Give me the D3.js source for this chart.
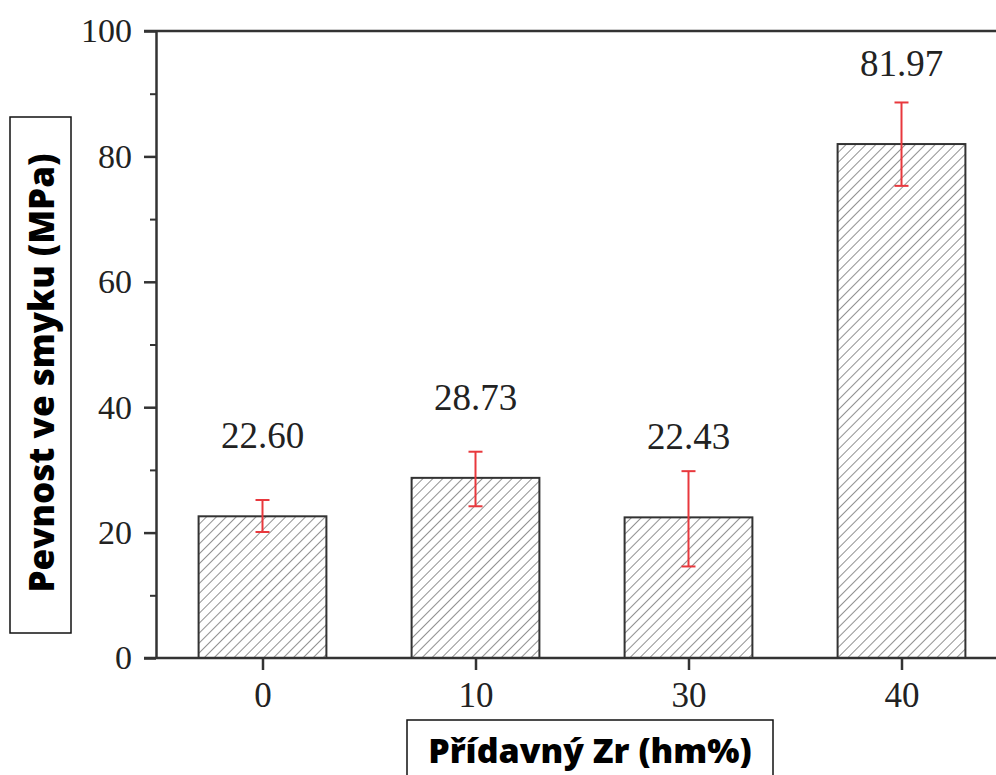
<!DOCTYPE html>
<html>
<head>
<meta charset="utf-8">
<script src="https://cdn.jsdelivr.net/npm/d3@7"></script>
<style>
  body { margin: 0; background: #fff; }
  svg { display: block; }
</style>
</head>
<body>
<div id="chart"></div>
<script>
// data
const categories = ['0', '10', '30', '40']
const values = [22.60, 28.73, 22.43, 81.97]
const errUpper = [25.2, 32.9, 29.8, 88.6]
const errLower = [20.1, 24.2, 14.6, 75.3]
const labels = ['22.60', '28.73', '22.43', '81.97']
const yTicks = [0, 20, 40, 60, 80, 100]
const yMinorTicks = [10, 30, 50, 70, 90]

const W = 996, H = 775
const plot = {left: 156, right: 1008, top: 31, bottom: 658}

const svg = d3.select('#chart').append('svg')
    .attr('width', W)
    .attr('height', H)

// hatch pattern for the bars
const defs = svg.append('defs')
defs.append('pattern')
    .attr('id', 'hatch')
    .attr('patternUnits', 'userSpaceOnUse')
    .attr('width', 7)
    .attr('height', 7)
    .attr('patternTransform', 'rotate(45)')
  .append('line')
    .attr('x1', 0).attr('y1', 0)
    .attr('x2', 0).attr('y2', 7)
    .attr('stroke', '#555')
    .attr('stroke-width', 1.3)

const x = d3.scalePoint()
    .domain(categories)
    .range([plot.left, plot.right])
    .padding(0.5)
const barW = x.step() * 0.6

const y = d3.scaleLinear()
    .domain([0, 100])
    .range([plot.bottom, plot.top])

const serif = '"Liberation Serif", "Times New Roman", serif'

// bars
svg.selectAll('.bar')
    .data(values)
    .join('rect')
    .attr('class', 'bar')
    .attr('x', (d, i) => x(categories[i]) - barW / 2)
    .attr('y', d => y(d))
    .attr('width', barW)
    .attr('height', d => y(0) - y(d))
    .attr('fill', 'url(#hatch)')
    .attr('stroke', '#333')
    .attr('stroke-width', 2)

// error bars
const eb = svg.selectAll('.err')
    .data(values)
    .join('g')
    .attr('class', 'err')
    .attr('stroke', '#e8383d')
    .attr('stroke-width', 2)
eb.append('line')
    .attr('x1', (d, i) => x(categories[i]))
    .attr('x2', (d, i) => x(categories[i]))
    .attr('y1', (d, i) => y(errUpper[i]))
    .attr('y2', (d, i) => y(errLower[i]))
eb.append('line')
    .attr('x1', (d, i) => x(categories[i]) - 7)
    .attr('x2', (d, i) => x(categories[i]) + 7)
    .attr('y1', (d, i) => y(errUpper[i]))
    .attr('y2', (d, i) => y(errUpper[i]))
eb.append('line')
    .attr('x1', (d, i) => x(categories[i]) - 7)
    .attr('x2', (d, i) => x(categories[i]) + 7)
    .attr('y1', (d, i) => y(errLower[i]))
    .attr('y2', (d, i) => y(errLower[i]))

// value labels
svg.selectAll('.vlabel')
    .data(values)
    .join('text')
    .attr('class', 'vlabel')
    .attr('x', (d, i) => x(categories[i]))
    .attr('y', d => y(d) - 68)
    .attr('text-anchor', 'middle')
    .style('font-family', serif)
    .style('font-size', '37px')
    .attr('fill', '#222')
    .text((d, i) => labels[i])

// y axis
const yAxis = svg.append('g')
    .attr('transform', `translate(${plot.left},0)`)
    .call(d3.axisLeft(y).tickValues(yTicks).tickSize(12).tickPadding(12).tickSizeOuter(0))
yAxis.select('.domain').attr('stroke', '#333').attr('stroke-width', 2.5)
yAxis.selectAll('.tick line').attr('stroke', '#333').attr('stroke-width', 2.5)
yAxis.selectAll('.tick text')
    .style('font-family', serif)
    .style('font-size', '34px')
    .attr('fill', '#222')

const yMinor = svg.append('g')
    .attr('transform', `translate(${plot.left},0)`)
    .call(d3.axisLeft(y).tickValues(yMinorTicks).tickSize(6).tickFormat(''))
yMinor.select('.domain').remove()
yMinor.selectAll('.tick line').attr('stroke', '#333').attr('stroke-width', 2)

// top frame line
svg.append('line')
    .attr('x1', plot.left - 12).attr('x2', W)
    .attr('y1', y(100)).attr('y2', y(100))
    .attr('stroke', '#333')
    .attr('stroke-width', 2.5)

// x axis
const xAxis = svg.append('g')
    .attr('transform', `translate(0,${plot.bottom})`)
    .call(d3.axisBottom(x).tickSize(12).tickPadding(12).tickSizeOuter(0))
xAxis.select('.domain').remove()
xAxis.selectAll('.tick line').attr('stroke', '#333').attr('stroke-width', 2.5)
xAxis.selectAll('.tick text')
    .style('font-family', serif)
    .style('font-size', '35px')
    .attr('fill', '#222')
svg.append('line')
    .attr('x1', plot.left - 12).attr('x2', W)
    .attr('y1', plot.bottom).attr('y2', plot.bottom)
    .attr('stroke', '#333')
    .attr('stroke-width', 2.5)

const sans = '"Open Sans", Roboto, sans-serif'

// y axis title in a box
svg.append('rect')
    .attr('x', 10).attr('y', 117)
    .attr('width', 61).attr('height', 516)
    .attr('fill', '#fff')
    .attr('stroke', '#111')
    .attr('stroke-width', 1.5)
svg.append('text')
    .attr('transform', 'translate(54,373) rotate(-90)')
    .attr('text-anchor', 'middle')
    .style('font-family', sans)
    .style('font-weight', 800)
    .style('font-size', '35px')
    .attr('fill', '#000')
    .text('Pevnost ve smyku (MPa)')

// x axis title in a box
svg.append('rect')
    .attr('x', 407).attr('y', 720)
    .attr('width', 366).attr('height', 70)
    .attr('fill', '#fff')
    .attr('stroke', '#111')
    .attr('stroke-width', 1.5)
svg.append('text')
    .attr('x', 590).attr('y', 763)
    .attr('text-anchor', 'middle')
    .style('font-family', sans)
    .style('font-weight', 800)
    .style('font-size', '34px')
    .attr('fill', '#000')
    .text('Přídavný Zr (hm%)')
</script>
</body>
</html>
